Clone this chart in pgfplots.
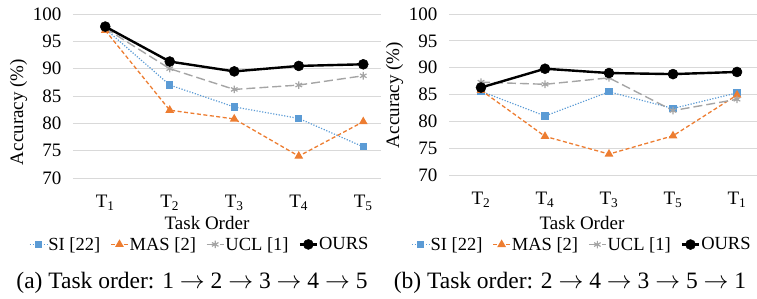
\documentclass[border=0pt]{standalone}
\usepackage{fontspec}
\setmainfont{Liberation Serif}
\usepackage{pgfplots}
\pgfplotsset{compat=1.18}
\definecolor{siblue}{RGB}{91,155,213}
\definecolor{masorange}{RGB}{237,125,49}
\definecolor{uclgray}{RGB}{165,165,165}
\definecolor{gridgray}{RGB}{217,217,217}
\pgfplotsset{
  panel/.style={
    scale only axis,
    width=308pt,
    xmin=-0.5,
    ymin=70, ymax=100,
    ytick={70,75,...,100},
    xtick={0,1,2,3,4},
    ymajorgrids,
    grid style={color=gridgray, line width=0.8pt},
    axis line style={draw=none},
    major tick style={draw=none},
    /pgf/number format/assume math mode=true,
    tick label style={font=\fontsize{19}{22}\selectfont},
    yticklabel style={xshift=-8pt},
    xticklabel style={yshift=-14pt},
    clip=false,
    legend columns=4,
    legend cell align=left,
    legend style={draw=none, fill=none, font=\fontsize{18.5}{22}\selectfont,
      anchor=center, inner sep=0pt,
      /tikz/every even column/.append style={column sep=9pt},
      /tikz/every odd column/.append style={column sep=0pt},
      nodes={inner sep=1pt}},
  },
  si/.style={color=siblue, line width=1.2pt, dash pattern=on 1.2pt off 1.6pt, mark=square*, mark size=3pt, mark options={solid, fill=siblue}},
  mas/.style={color=masorange, line width=1.3pt, dash pattern=on 4pt off 2.5pt, mark=triangle*, mark size=3.8pt, mark options={solid, fill=masorange}},
  ucl/.style={color=uclgray, line width=1.4pt, dash pattern=on 9pt off 4pt, mark=asterisk, mark size=3.8pt, mark options={solid, line width=1.2pt}},
  ours/.style={color=black, line width=2.4pt, solid, mark=*, mark size=5pt, mark options={solid, fill=black, line width=0.5pt}},
}
\begin{document}
\begin{tikzpicture}
\useasboundingbox (0pt,0pt) rectangle (757pt,299pt);
% left panel
\begin{axis}[panel,
  at={(73pt,121pt)}, anchor=south west,
  height=164pt, xmax=4.275,
  xticklabels={T\textsubscript{1},T\textsubscript{2},T\textsubscript{3},T\textsubscript{4},T\textsubscript{5}},
  legend style={at={(0.41,-0.405)}},
]
\addplot[si] coordinates {(0,97.3) (1,87.0) (2,83.0) (3,80.9) (4,75.7)};
\addlegendentry{SI [22]}
\addplot[mas] coordinates {(0,97.0) (1,82.4) (2,80.8) (3,74.0) (4,80.3)};
\addlegendentry{MAS [2]}
\addplot[ucl] coordinates {(0,97.4) (1,90.0) (2,86.2) (3,87.0) (4,88.7)};
\addlegendentry{UCL [1]}
\addplot[ours] coordinates {(0,97.7) (1,91.3) (2,89.5) (3,90.5) (4,90.8)};
\addlegendentry{OURS}
\end{axis}
% right panel
\begin{axis}[panel,
  at={(449pt,124pt)}, anchor=south west,
  height=161pt, xmax=4.3125,
  xticklabels={T\textsubscript{2},T\textsubscript{4},T\textsubscript{3},T\textsubscript{5},T\textsubscript{1}},
  legend style={at={(0.43,-0.432)}},
]
\addplot[si] coordinates {(0,85.6) (1,81.0) (2,85.5) (3,82.4) (4,85.3)};
\addlegendentry{SI [22]}
\addplot[mas] coordinates {(0,85.8) (1,77.2) (2,73.9) (3,77.3) (4,84.9)};
\addlegendentry{MAS [2]}
\addplot[ucl] coordinates {(0,87.3) (1,86.9) (2,88.1) (3,82.0) (4,84.1)};
\addlegendentry{UCL [1]}
\addplot[ours] coordinates {(0,86.3) (1,89.8) (2,89.0) (3,88.8) (4,89.2)};
\addlegendentry{OURS}
\end{axis}
% axis titles
\node[rotate=90, font=\fontsize{19}{22}\selectfont] at (18.5pt,187pt) {Accuracy (\%)};
\node[rotate=90, font=\fontsize{19}{22}\selectfont] at (394.5pt,204pt) {Accuracy (\%)};
\node[font=\fontsize{19}{22}\selectfont] at (207pt,76pt) {Task Order};
\node[font=\fontsize{19}{22}\selectfont] at (582pt,76pt) {Task Order};
% captions
\node[font=\fontsize{23.5}{26}\selectfont] at (192pt,16pt) {(a) Task order: 1 $\rightarrow$ 2 $\rightarrow$ 3 $\rightarrow$ 4 $\rightarrow$ 5};
\node[font=\fontsize{23.5}{26}\selectfont] at (570pt,16pt) {(b) Task order: 2 $\rightarrow$ 4 $\rightarrow$ 3 $\rightarrow$ 5 $\rightarrow$ 1};
\end{tikzpicture}
\end{document}
